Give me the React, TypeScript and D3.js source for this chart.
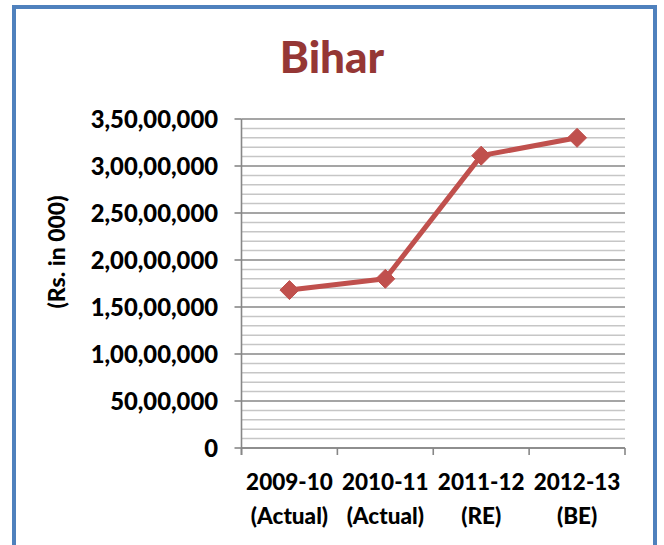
import React from "react";
import * as d3 from "d3";

const title = "Bihar";
const yAxisTitle = "(Rs. in 000)";
const categoriesLine1 = ["2009-10", "2010-11", "2011-12", "2012-13"];
const categoriesLine2 = ["(Actual)", "(Actual)", "(RE)", "(BE)"];
const values = [16800000, 18000000, 31100000, 33000000];
const yMax = 35000000;
const yMajorStep = 5000000;
const yMinorStep = 1000000;

const W = 664;
const H = 545;
const plot = { left: 241.5, right: 625, top: 119, bottom: 448 };
const FONT = "Lato, 'Open Sans', sans-serif";

function indian(n: number): string {
  const s = String(Math.round(n));
  if (s.length <= 3) return s;
  const last3 = s.slice(-3);
  const rest = s.slice(0, -3).replace(/\B(?=(\d{2})+(?!\d))/g, ",");
  return rest + "," + last3;
}

export default function App() {
  const x = d3.scaleBand<string>().domain(categoriesLine1).range([plot.left, plot.right]).padding(0);
  const y = d3.scaleLinear().domain([0, yMax]).range([plot.bottom, plot.top]);
  const majors = d3.range(0, yMax + 1, yMajorStep);
  const minors = d3.range(0, yMax + 1, yMinorStep).filter((v) => v % yMajorStep !== 0);
  const cx = (i: number) => (x(categoriesLine1[i]) as number) + x.bandwidth() / 2;
  const line = d3
    .line<number>()
    .x((_, i) => cx(i))
    .y((d) => y(d));
  const boundaries = categoriesLine1.map((c) => x(c) as number).concat([plot.right]);
  const dm = 9.5;
  const txt = { fontFamily: FONT, fontWeight: 900 as any, fill: "#000" };

  return (
    <svg width={W} height={H} style={{ position: "absolute", left: 0, top: 0 }}>
      <rect x={0} y={0} width={W} height={H} fill="#fff" />
      <rect x={14} y={7} width={641} height={540} fill="#fff" stroke="#4F81BD" strokeWidth={4} />
      <text x={332} y={73} textAnchor="middle" fontFamily={FONT} fontWeight={900} fontSize={44} fill="#953735">
        {title}
      </text>
      {minors.map((v) => (
        <line key={"mi" + v} x1={plot.left} x2={plot.right} y1={y(v)} y2={y(v)} stroke="#C6C6C6" strokeWidth={1.5} />
      ))}
      {majors.map((v) => (
        <line key={"ma" + v} x1={plot.left} x2={plot.right} y1={y(v)} y2={y(v)} stroke="#878787" strokeWidth={1.6} />
      ))}
      {majors.map((v) => (
        <line key={"mt" + v} x1={plot.left - 7} x2={plot.left} y1={y(v)} y2={y(v)} stroke="#878787" strokeWidth={1.6} />
      ))}
      <line x1={plot.left} x2={plot.left} y1={plot.top} y2={plot.bottom + 7} stroke="#878787" strokeWidth={1.6} />
      <line x1={plot.left} x2={plot.right} y1={plot.bottom} y2={plot.bottom} stroke="#878787" strokeWidth={1.6} />
      {boundaries.map((b, i) => (
        <line key={"xt" + i} x1={b} x2={b} y1={plot.bottom} y2={plot.bottom + 7} stroke="#878787" strokeWidth={1.6} />
      ))}
      {majors.map((v) => (
        <text key={"yl" + v} x={218} y={y(v)} dy="0.36em" textAnchor="end" fontSize={23.8} {...txt}>
          {indian(v)}
        </text>
      ))}
      <text transform={`translate(57,252) rotate(-90)`} dy="0.36em" textAnchor="middle" fontSize={23} {...txt}>
        {yAxisTitle}
      </text>
      {categoriesLine1.map((c, i) => (
        <g key={"xl" + c}>
          <text x={cx(i)} y={490} textAnchor="middle" fontSize={22.5} {...txt}>
            {c}
          </text>
          <text x={cx(i)} y={524} textAnchor="middle" fontSize={22.5} {...txt}>
            {categoriesLine2[i]}
          </text>
        </g>
      ))}
      <path d={line(values) || ""} fill="none" stroke="#C0504D" strokeWidth={5} strokeLinejoin="round" />
      {values.map((v, i) => (
        <path
          key={"pt" + i}
          d={`M${cx(i)},${y(v) - dm}L${cx(i) + dm},${y(v)}L${cx(i)},${y(v) + dm}L${cx(i) - dm},${y(v)}Z`}
          fill="#C0504D"
          stroke="#C0504D"
          strokeWidth={1}
        />
      ))}
    </svg>
  );
}
